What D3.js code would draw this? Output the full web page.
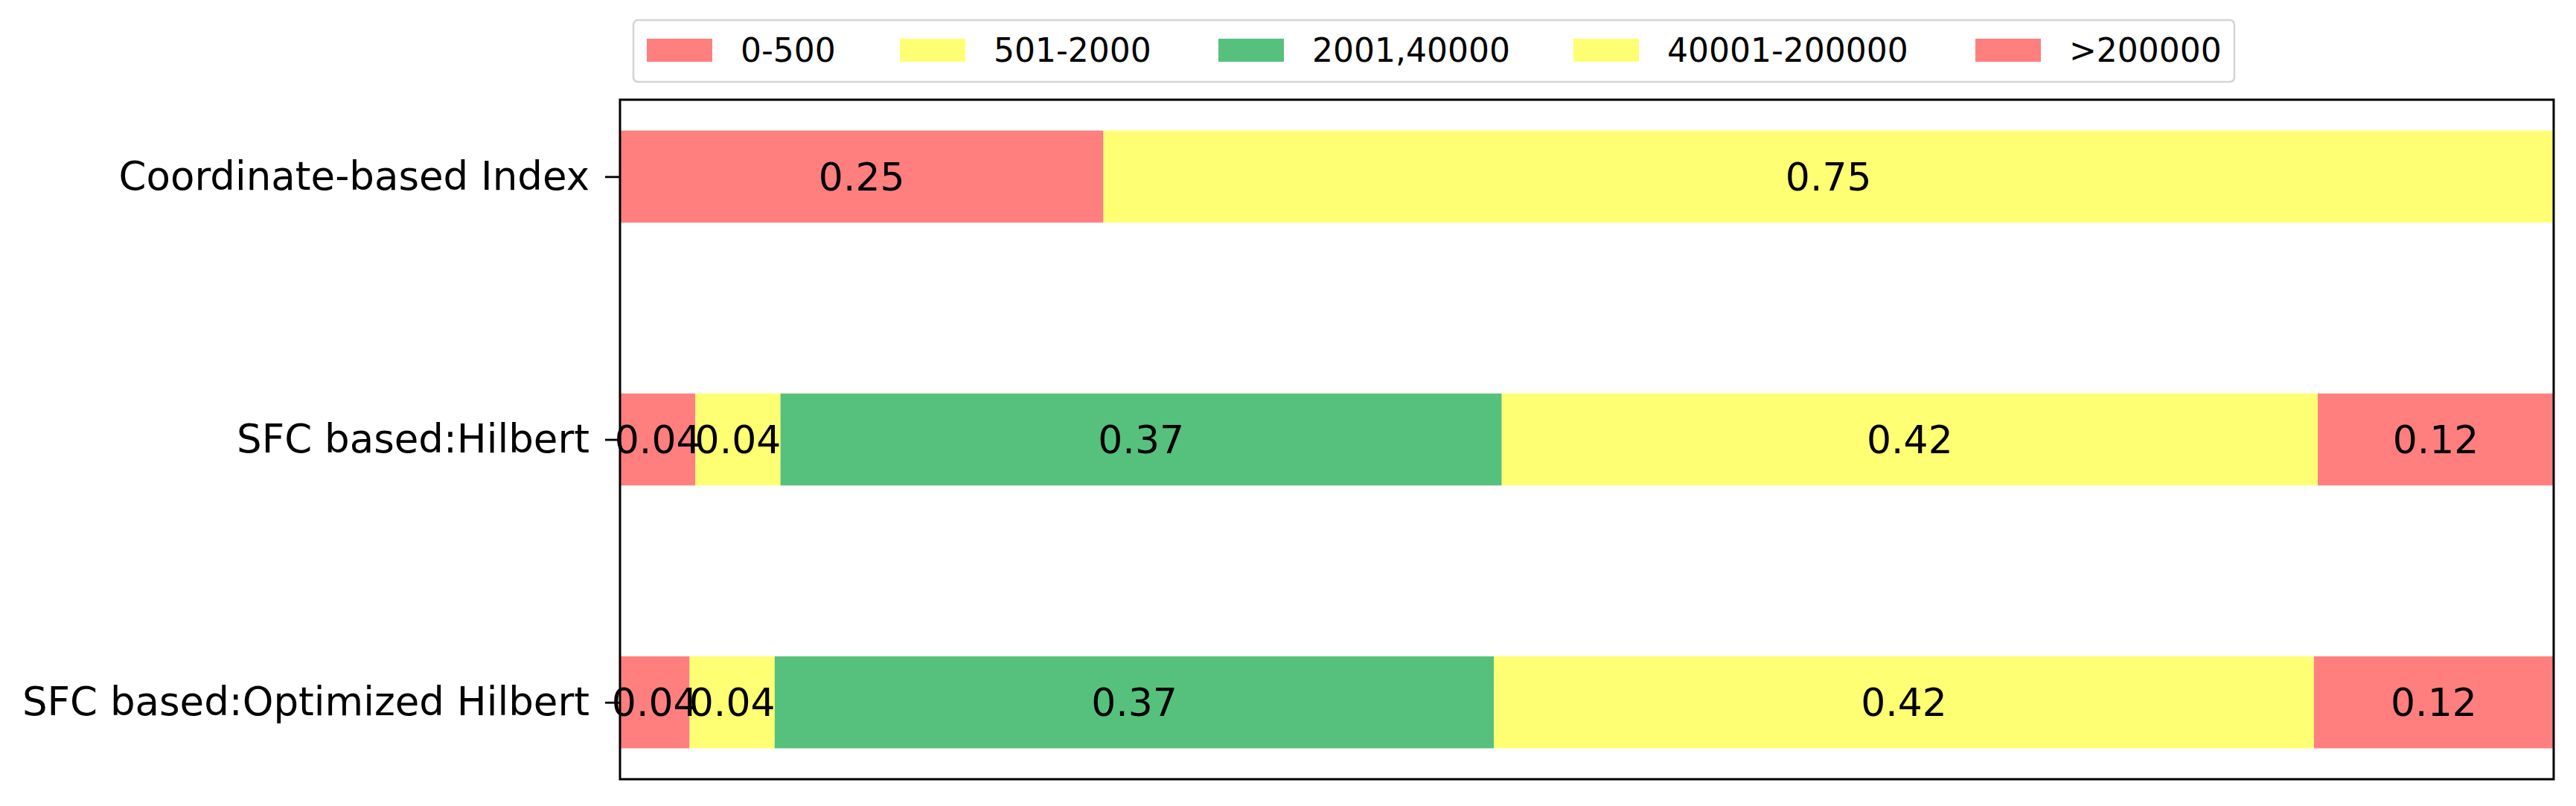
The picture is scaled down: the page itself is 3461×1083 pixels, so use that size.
<!DOCTYPE html>
<html>
<head>
<meta charset="utf-8">
<script src="https://cdn.jsdelivr.net/npm/d3@7"></script>
<style>
  html, body { margin: 0; padding: 0; background: #fff; }
  svg { display: block; }
</style>
</head>
<body>
<script>
// ---- data ----
const categories = ["Coordinate-based Index", "SFC based:Hilbert", "SFC based:Optimized Hilbert"];
const seriesNames = ["0-500", "501-2000", "2001,40000", "40001-200000", ">200000"];
const seriesColors = ["#FF7F7F", "#FFFF73", "#56C17C", "#FFFF73", "#FF7F7F"];
const s0_500 = [0.25, 0.039, 0.036];
const s501_2000 = [0.75, 0.044, 0.044];
const s2001_40000 = [0, 0.373, 0.372];
const s40001_200000 = [0, 0.422, 0.424];
const sOver200000 = [0, 0.122, 0.124];
const seriesValues = [s0_500, s501_2000, s2001_40000, s40001_200000, sOver200000];

// ---- layout ----
const W = 3461, H = 1083;
const plot = { left: 833, right: 3431, top: 134, bottom: 1047 };
const barH = 0.35;
const FONT = "'DejaVu Sans', 'Liberation Sans', sans-serif";

const svg = d3.select("body").append("svg")
  .attr("width", W).attr("height", H)
  .style("background", "#fff");

const x = d3.scaleLinear().domain([0, 1]).range([plot.left, plot.right]);
const pad = 0.05 * (categories.length - 1 + barH);
const y = d3.scaleLinear()
  .domain([-barH / 2 - pad, categories.length - 1 + barH / 2 + pad])
  .range([plot.top, plot.bottom]);

// stacked segments
const segs = [];
categories.forEach((c, i) => {
  let acc = 0;
  seriesValues.forEach((vals, k) => {
    const v = vals[i];
    segs.push({ cat: i, k, x0: acc, x1: acc + v, v });
    acc += v;
  });
});

const g = svg.append("g");
g.selectAll("rect.bar").data(segs.filter(d => d.v > 0)).enter().append("rect")
  .attr("class", "bar")
  .attr("x", d => x(d.x0))
  .attr("width", d => x(d.x1) - x(d.x0))
  .attr("y", d => y(d.cat - barH / 2))
  .attr("height", d => y(d.cat + barH / 2) - y(d.cat - barH / 2))
  .attr("fill", d => seriesColors[d.k]);

g.selectAll("text.val").data(segs.filter(d => d.v > 0)).enter().append("text")
  .attr("class", "val")
  .attr("x", d => (x(d.x0) + x(d.x1)) / 2)
  .attr("y", d => y(d.cat))
  .attr("dy", "0.36em")
  .attr("text-anchor", "middle")
  .style("font-family", FONT).style("font-size", "52px").attr("fill", "#000")
  .text(d => d.v.toFixed(2));

// y axis ticks + labels
const yAxis = d3.axisLeft(y).tickValues(d3.range(categories.length))
  .tickFormat(i => categories[i]).tickSize(20).tickPadding(21);
const ya = svg.append("g").attr("transform", `translate(${plot.left},0)`).call(yAxis);
ya.select(".domain").remove();
ya.selectAll(".tick line").attr("stroke", "#000").attr("stroke-width", 2.8);
ya.selectAll(".tick text").style("font-family", FONT).style("font-size", "53px").attr("fill", "#000");

// frame
svg.append("rect")
  .attr("x", plot.left).attr("y", plot.top)
  .attr("width", plot.right - plot.left).attr("height", plot.bottom - plot.top)
  .attr("fill", "none").attr("stroke", "#000").attr("stroke-width", 3);

// legend
const legend = svg.append("g");
legend.append("rect")
  .attr("x", 851).attr("y", 27).attr("width", 2151).attr("height", 83)
  .attr("rx", 6).attr("fill", "#fff").attr("stroke", "#d4d4d4").attr("stroke-width", 2.5);
const legX = [869, 1209, 1637, 2114, 2654];
const li = legend.selectAll("g.item").data(seriesNames).enter().append("g")
  .attr("transform", (d, i) => `translate(${legX[i]},0)`);
li.append("rect").attr("x", 0).attr("y", 52).attr("width", 88).attr("height", 31)
  .attr("fill", (d, i) => seriesColors[i]);
li.append("text").attr("x", 126).attr("y", 67.5).attr("dy", "0.36em")
  .style("font-family", FONT).style("font-size", "44px").attr("fill", "#000")
  .text(d => d);
</script>
</body>
</html>
